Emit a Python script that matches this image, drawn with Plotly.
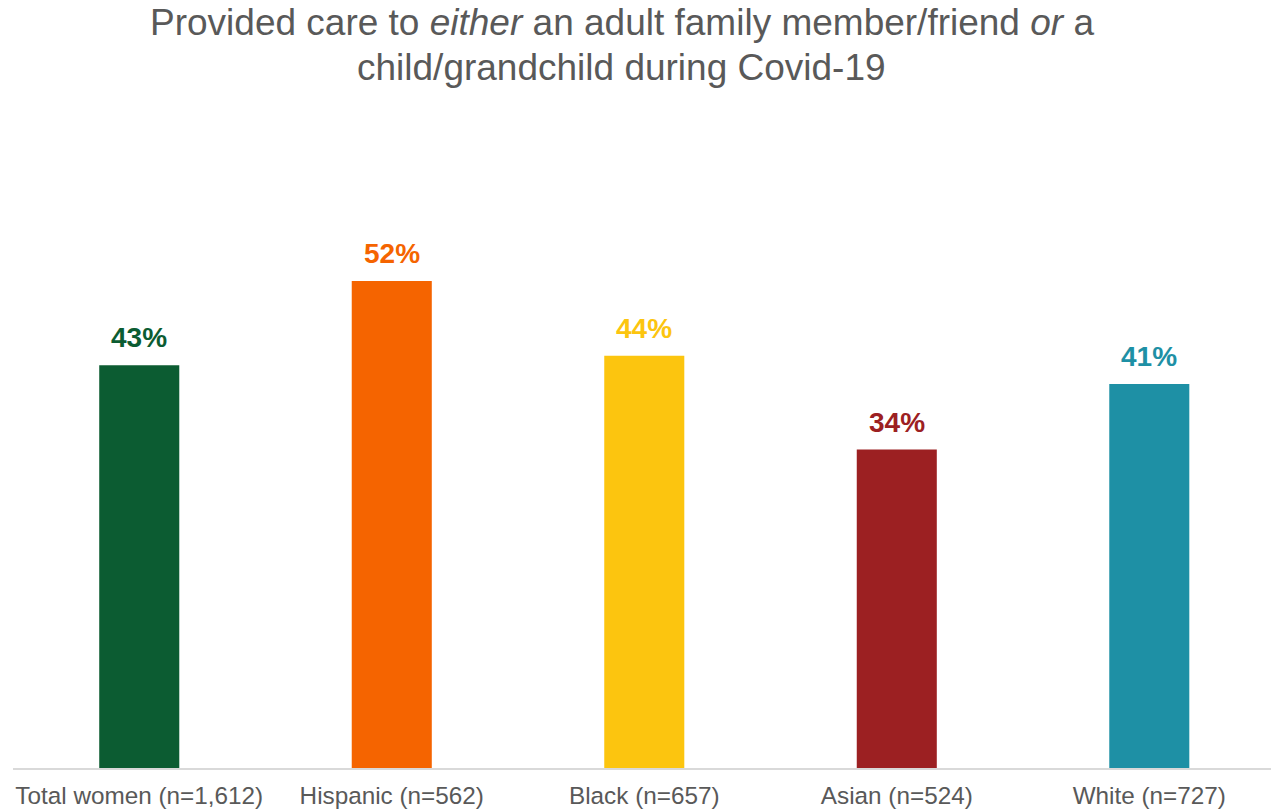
import plotly.graph_objects as go

# Share of women who provided care, by group
categories = ["Total women (n=1,612)", "Hispanic (n=562)", "Black (n=657)",
              "Asian (n=524)", "White (n=727)"]
values = [43, 52, 44, 34, 41]
colors = ["#0C5C32", "#F56400", "#FCC50F", "#9C2022", "#1E90A5"]
title_lines = [
    "Provided care to <i>either</i> an adult family member/friend <i>or</i> a",
    "child/grandchild during Covid-19",
]

FONT = "Liberation Sans, Arial, sans-serif"

fig = go.Figure(
    go.Bar(
        x=categories,
        y=values,
        marker=dict(color=colors, line=dict(width=0)),
        hoverinfo="x+y",
    )
)

# Bold value labels above each bar, in the bar's colour
for cat, val, col in zip(categories, values, colors):
    fig.add_annotation(
        x=cat, y=val, text=f"<b>{val}%</b>",
        showarrow=False, yanchor="bottom", yshift=10,
        font=dict(family=FONT, size=28, color=col),
    )

# Two-line chart heading
for line, ypos in zip(title_lines, [1.3274, 1.2473]):
    fig.add_annotation(
        xref="paper", yref="paper", x=0.484, y=ypos,
        xanchor="center", yanchor="middle", showarrow=False,
        text=line, font=dict(family=FONT, size=37, color="#595959"),
    )

fig.update_layout(
    width=1271, height=810,
    margin=dict(l=13, r=0, t=206, b=42),
    paper_bgcolor="white", plot_bgcolor="white",
    bargap=0.683,
    showlegend=False,
    xaxis=dict(
        range=[-0.5, 4.482],
        showline=True, linecolor="#D9D9D9", linewidth=2,
        ticks="", showgrid=False, ticklabelstandoff=5,
        tickfont=dict(family=FONT, size=24.3, color="#595959"),
    ),
    yaxis=dict(
        range=[0, 60], visible=False, showgrid=False, zeroline=False,
    ),
)

fig.write_html("out.html")
